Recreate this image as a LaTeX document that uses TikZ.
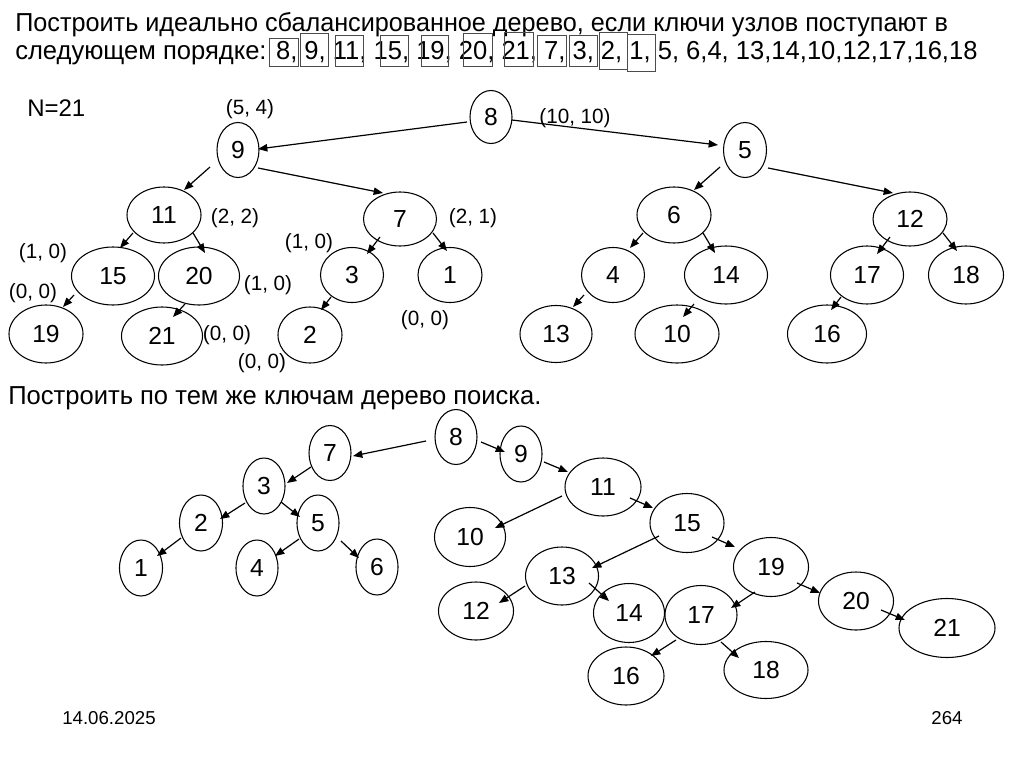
\documentclass[tikz,border=0pt]{standalone}
\usepackage{fontspec}
\setmainfont{Liberation Sans}
\newfontfamily\ttlA[FakeStretch=0.97]{Liberation Sans}
\newfontfamily\ttlB[FakeStretch=0.983]{Liberation Sans}
\usetikzlibrary{shapes.geometric,arrows.meta}
\begin{document}
\begin{tikzpicture}[x=0.75pt,y=-0.75pt,
  nd/.style 2 args={draw, ellipse, line width=0.8pt, inner sep=0pt,
    minimum width=#1*0.75pt, minimum height=#2*0.75pt,
    font=\fontsize{18.5}{20}\selectfont},
  arr/.style={-{Triangle[length=7pt,width=5.5pt]}, line width=0.9pt},
  lbl/.style={font=\fontsize{15.5}{17}\selectfont, inner sep=0pt},
  ttl/.style={inner sep=0pt, anchor=base west},
  kbox/.style={draw=black!70, line width=0.75pt},
  foot/.style={font=\fontsize{14}{16}\selectfont, inner sep=0pt}
]
\useasboundingbox (0,0) rectangle (1024,767);

% ---------- title ----------
\node[ttl, font=\ttlA\fontsize{19.5}{22}\selectfont] (title1) at (15,32) {Построить идеально сбалансированное дерево, если ключи узлов поступают в};
\node[ttl, font=\ttlB\fontsize{19.5}{22}\selectfont] (title2) at (15,60) {следующем порядке: 8, 9, 11, 15, 19, 20, 21, 7, 3, 2, 1, 5, 6,4, 13,14,10,12,17,16,18};
\draw[kbox] (269,39) rectangle (298,67);
\draw[kbox] (300,34) rectangle (328,67);
\draw[kbox] (335,36) rectangle (363,67);
\draw[kbox] (380,36) rectangle (408,67);
\draw[kbox] (421,36) rectangle (448,67);
\draw[kbox] (463,34) rectangle (492,67);
\draw[kbox] (504,33) rectangle (533,67);
\draw[kbox] (537,36) rectangle (566,67);
\draw[kbox] (569,36) rectangle (597,67);
\draw[kbox] (599,33) rectangle (627,70);
\draw[kbox] (627,35) rectangle (655,72);

\node[font=\fontsize{18}{20}\selectfont, inner sep=0pt, anchor=base west] (N) at (27,117) {N=21};

% ---------- balanced tree ----------
\node[nd={42}{53}] (n8) at (491,117) {8};
\node[nd={42}{55}] (n9) at (238,150) {9};
\node[nd={43}{55}] (n5) at (745,150) {5};
\node[nd={74}{56}] (t11) at (164,215) {11};
\node[nd={73}{54}] (t7) at (400,219) {7};
\node[nd={74}{56}] (t6) at (674,215) {6};
\node[nd={74}{54}] (t12) at (910,219) {12};
\node[nd={83}{58}] (t15) at (113,276) {15};
\node[nd={81}{58}] (t20) at (199,276) {20};
\node[nd={63}{55}] (t3) at (352,275) {3};
\node[nd={64}{55}] (t1) at (450,275) {1};
\node[nd={63}{55}] (t4) at (613,275) {4};
\node[nd={83}{58}] (t14) at (726,275) {14};
\node[nd={73}{58}] (t17) at (867,275) {17};
\node[nd={75}{58}] (t18) at (966,275) {18};
\node[nd={74}{58}] (t19) at (46,334) {19};
\node[nd={81}{58}] (t21) at (162,336) {21};
\node[nd={64}{56}] (t2) at (310,335) {2};
\node[nd={72}{57}] (t13) at (556,334) {13};
\node[nd={84}{58}] (t10) at (677,334) {10};
\node[nd={79}{58}] (t16) at (827,334) {16};

\draw[arr] ([shift={(-24,5)}]n8.center) -- ([shift={(20,-1)}]n9.center);
\draw[arr] ([shift={(21,3)}]n8.center) -- ([shift={(-27,-5)}]n5.center);
\draw[arr] ([shift={(-28,17)}]n9.center) -- ([shift={(20,-25)}]t11.center);
\draw[arr] ([shift={(20,18)}]n9.center) -- ([shift={(-17,-26)}]t7.center);
\draw[arr] ([shift={(-25,17)}]n5.center) -- ([shift={(20,-25)}]t6.center);
\draw[arr] ([shift={(23,18)}]n5.center) -- ([shift={(-17,-26)}]t12.center);
\draw[arr] ([shift={(-31,18)}]t11.center) -- ([shift={(7,-28)}]t15.center);
\draw[arr] ([shift={(29,18)}]t11.center) -- ([shift={(6,-23)}]t20.center);
\draw[arr] ([shift={(-20,18)}]t7.center) -- ([shift={(15,-21)}]t3.center);
\draw[arr] ([shift={(33,14)}]t7.center) -- ([shift={(-3,-24)}]t1.center);
\draw[arr] ([shift={(-39,19)}]t15.center) -- ([shift={(17,-27)}]t19.center);
\draw[arr] ([shift={(-14,28)}]t20.center) -- ([shift={(11,-19)}]t21.center);
\draw[arr] ([shift={(-21,22)}]t3.center) -- ([shift={(11,-25)}]t2.center);
\draw[arr] ([shift={(-31,18)}]t6.center) -- ([shift={(17,-27)}]t4.center);
\draw[arr] ([shift={(29,18)}]t6.center) -- ([shift={(-11,-22)}]t14.center);
\draw[arr] ([shift={(-20,18)}]t12.center) -- ([shift={(10,-21)}]t17.center);
\draw[arr] ([shift={(33,14)}]t12.center) -- ([shift={(-9,-24)}]t18.center);
\draw[arr] ([shift={(-29,20)}]t4.center) -- ([shift={(17,-27)}]t13.center);
\draw[arr] ([shift={(-32,29)}]t14.center) -- ([shift={(6,-17)}]t10.center);
\draw[arr] ([shift={(-26,22)}]t17.center) -- ([shift={(4,-24)}]t16.center);

% labels (sizes)
\node[lbl] (l1) at (250,109) {(5, 4)};
\node[lbl] (l2) at (575,118) {(10, 10)};
\node[lbl] (l3) at (235,218) {(2, 2)};
\node[lbl] (l4) at (473,218) {(2, 1)};
\node[lbl] (l5) at (43,253) {(1, 0)};
\node[lbl] (l6) at (309,243) {(1, 0)};
\node[lbl] (l7) at (33,293) {(0, 0)};
\node[lbl] (l8) at (268,285) {(1, 0)};
\node[lbl] (l9) at (227,335) {(0, 0)};
\node[lbl] (l10) at (262,363) {(0, 0)};
\node[lbl] (l11) at (425,320) {(0, 0)};

% ---------- search tree ----------
\node[ttl, font=\ttlB\fontsize{19.5}{22}\selectfont] (title3) at (8,404) {Построить по тем же ключам дерево поиска.};

\node[nd={42}{55}] (b8) at (456,437) {8};
\node[nd={42}{56}] (b9) at (521,454) {9};
\node[nd={42}{55}] (b7) at (330,453) {7};
\node[nd={42}{56}] (b3) at (264,486) {3};
\node[nd={43}{56}] (b2) at (201,523) {2};
\node[nd={42}{56}] (b5) at (318,523) {5};
\node[nd={43}{56}] (b1) at (141,568) {1};
\node[nd={42}{56}] (b4) at (257,568) {4};
\node[nd={42}{56}] (b6) at (377,567) {6};
\node[nd={76}{58}] (b11) at (603,487) {11};
\node[nd={71}{59}] (b10) at (470,537) {10};
\node[nd={74}{59}] (b15) at (687,523) {15};
\node[nd={73}{58}] (b13) at (562,576) {13};
\node[nd={75}{59}] (b19) at (771,567) {19};
\node[nd={75}{58}] (b12) at (476,611) {12};
\node[nd={71}{59}] (b14) at (629,613) {14};
\node[nd={72}{59}] (b17) at (701,615) {17};
\node[nd={75}{58}] (b20) at (856,601) {20};
\node[nd={96}{59}] (b21) at (947,628) {21};
\node[nd={76}{58}] (b16) at (626,676) {16};
\node[nd={84}{57}] (b18) at (766,670) {18};

\draw[arr] ([shift={(-30,4)}]b8.center) -- ([shift={(23,3)}]b7.center);
\draw[arr] ([shift={(25,5)}]b8.center) -- ([shift={(-16,-2)}]b9.center);
\draw[arr] ([shift={(-19,14)}]b7.center) -- ([shift={(23,-3)}]b3.center);
\draw[arr] ([shift={(-19,17)}]b3.center) -- ([shift={(19,-4)}]b2.center);
\draw[arr] ([shift={(17,16)}]b3.center) -- ([shift={(-18,-6)}]b5.center);
\draw[arr] ([shift={(-20,15)}]b2.center) -- ([shift={(16,-12)}]b1.center);
\draw[arr] ([shift={(-19,16)}]b5.center) -- ([shift={(18,-12)}]b4.center);
\draw[arr] ([shift={(23,18)}]b5.center) -- ([shift={(-18,-9)}]b6.center);
\draw[arr] ([shift={(23,8)}]b9.center) -- ([shift={(-35,-15)}]b11.center);
\draw[arr] ([shift={(-41,9)}]b11.center) -- ([shift={(25,-9)}]b10.center);
\draw[arr] ([shift={(27,11)}]b11.center) -- ([shift={(-34,-15)}]b15.center);
\draw[arr] ([shift={(-28,13)}]b15.center) -- ([shift={(30,-8)}]b13.center);
\draw[arr] ([shift={(25,14)}]b15.center) -- ([shift={(-36,-20)}]b19.center);
\draw[arr] ([shift={(-37,10)}]b13.center) -- ([shift={(23,-8)}]b12.center);
\draw[arr] ([shift={(27,7)}]b13.center) -- ([shift={(-20,-12)}]b14.center);
\draw[arr] ([shift={(-16,25)}]b19.center) -- ([shift={(30,-7)}]b17.center);
\draw[arr] ([shift={(26,16)}]b19.center) -- ([shift={(-36,-8)}]b20.center);
\draw[arr] ([shift={(25,9)}]b20.center) -- ([shift={(-42,-8)}]b21.center);
\draw[arr] ([shift={(-25,25)}]b17.center) -- ([shift={(25,-20)}]b16.center);
\draw[arr] ([shift={(20,27)}]b17.center) -- ([shift={(-27,-12)}]b18.center);

% ---------- footer ----------
\node[foot] (date) at (109,718) {14.06.2025};
\node[foot] (page) at (947,718) {264};
\end{tikzpicture}
\end{document}
